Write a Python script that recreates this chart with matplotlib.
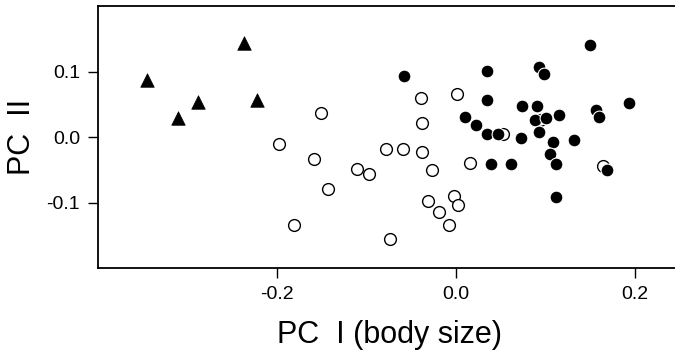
import matplotlib
matplotlib.use("Agg")
import matplotlib.pyplot as plt

plt.rcParams['font.family'] = ['Liberation Sans Narrow', 'Liberation Sans', 'DejaVu Sans']

# grupo 1: triangulos
tri_x = [-0.345, -0.237, -0.288, -0.311, -0.222]
tri_y = [0.087, 0.143, 0.054, 0.029, 0.057]

# grupo 2: circulos abiertos
open_x = [-0.198, -0.039, 0.0015, -0.151, -0.038, -0.078, -0.059, -0.038,
          -0.159, -0.111, -0.097, -0.027, 0.015, -0.143, -0.032, -0.019,
          -0.002, 0.002, -0.008, -0.181, -0.074, 0.094, 0.052, 0.164]
open_y = [-0.010, 0.060, 0.065, 0.037, 0.021, -0.018, -0.018, -0.023,
          -0.034, -0.049, -0.056, -0.051, -0.040, -0.079, -0.098, -0.115,
          -0.090, -0.104, -0.135, -0.135, -0.155, 0.026, 0.005, -0.045]

# grupo 3: circulos llenos
fill_x = [-0.058, 0.010, 0.022, 0.150, 0.035, 0.093, 0.098, 0.035, 0.073,
          0.090, 0.193, 0.156, 0.159, 0.115, 0.088, 0.100, 0.035, 0.047,
          0.072, 0.092, 0.132, 0.108, 0.105, 0.112, 0.039, 0.061, 0.169,
          0.112]
fill_y = [0.093, 0.031, 0.018, 0.140, 0.101, 0.107, 0.096, 0.057, 0.048,
          0.048, 0.052, 0.041, 0.031, 0.034, 0.026, 0.029, 0.004, 0.004,
          -0.002, 0.007, -0.004, -0.008, -0.026, -0.041, -0.041, -0.041,
          -0.050, -0.092]

xticks = [-0.2, 0.0, 0.2]
xtick_labels = ["-0.2", "0.0", "0.2"]
yticks = [-0.1, 0.0, 0.1]
ytick_labels = ["-0.1", "0.0", "0.1"]

fig = plt.figure(figsize=(6.75, 3.58), dpi=100)
ax = fig.add_axes([98 / 675, 90 / 358, 582 / 675, 262 / 358])

ax.scatter(open_x, open_y, s=72, facecolors="white", edgecolors="black",
           linewidths=1.0, zorder=2)
ax.scatter(fill_x, fill_y, s=85, facecolors="black", edgecolors="white",
           linewidths=0.8, zorder=3)
ax.scatter(tri_x, tri_y, s=95, marker="^", facecolors="black",
           edgecolors="black", linewidths=0.5, zorder=3)

ax.set_xlim(-0.4, 0.25)
ax.set_ylim(-0.2, 0.2)
ax.set_xticks(xticks)
ax.set_xticklabels(xtick_labels)
ax.set_yticks(yticks)
ax.set_yticklabels(ytick_labels)
ax.tick_params(direction="out", length=7, width=1.0, labelsize=14, pad=6)
for s in ax.spines.values():
    s.set_linewidth(1.3)

ax.set_xlabel("PC  I (body size)", fontsize=22, labelpad=12)
ax.set_ylabel("PC  II", fontsize=22, labelpad=7)

fig.savefig("out.png", dpi=100)
